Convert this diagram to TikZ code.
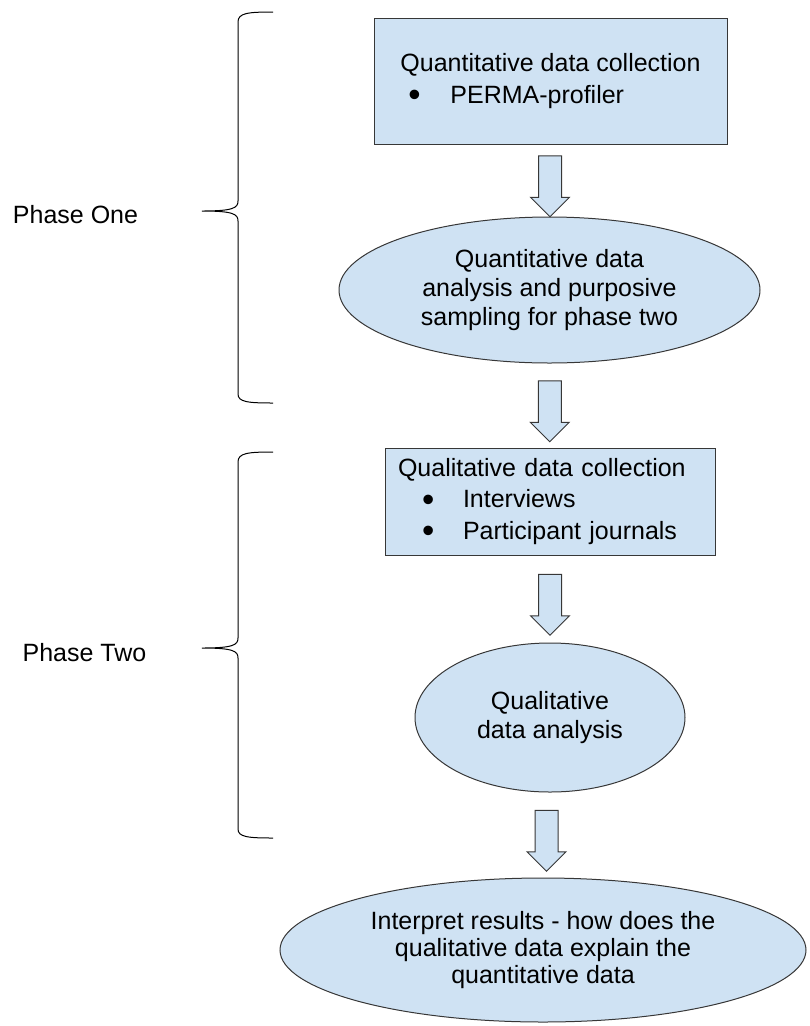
\documentclass[tikz,border=0pt]{standalone}
\usepackage{fontspec}
\setmainfont{Liberation Sans}
\usetikzlibrary{shapes.geometric,shapes.arrows,calc}
\definecolor{stepfill}{RGB}{207,226,243}
\definecolor{stepline}{RGB}{55,55,55}
\newcommand{\stepbullet}{\raisebox{-2.5pt}{\scalebox{1.4}{\textbullet}}}
\tikzset{
  stepbox/.style={draw=stepline,line width=0.75pt,fill=stepfill,align=left,inner xsep=0pt,inner ysep=0pt,
    font=\fontsize{18.75}{23.6}\selectfont},
  stepell/.style={ellipse,draw=stepline,line width=0.75pt,fill=stepfill,align=center,inner sep=0pt,
    font=\fontsize{18.75}{21.4}\selectfont},
  downarrow/.style={single arrow,draw=stepline,line width=0.75pt,fill=stepfill,rotate=-90,inner xsep=0pt,
    inner ysep=8.25pt,minimum height=45.75pt,single arrow head extend=6pt,single arrow tip angle=90,
    single arrow head indent=0pt},
  phasenote/.style={font=\fontsize{18.75}{22}\selectfont,inner sep=0pt},
  phasebrace/.style={draw=black,line width=0.75pt}
}
\begin{document}
\begin{tikzpicture}[x=0.75pt,y=-0.75pt]
  \useasboundingbox (0,0) rectangle (810,1026);
  \node[stepbox,minimum width=264.75pt,minimum height=94.5pt] (quantbox) at (550.5,81)
    {Quantitative data collection\\\makebox[37.5pt][l]{\hspace*{6pt}\stepbullet}PERMA-profiler};
  \node[stepell,minimum width=315.75pt,minimum height=109.5pt] (quantell) at (549.5,290)
    {Quantitative data\\analysis and purposive\\sampling for phase two};
  \node[stepbox,text width=228pt,minimum width=247.5pt,minimum height=80.25pt] (qualbox) at (550,501.5)
    {Qualitative data collection\\\makebox[48.75pt][l]{\hspace*{18pt}\stepbullet}Interviews\\
     \makebox[48.75pt][l]{\hspace*{18pt}\stepbullet}Participant journals};
  \node[stepell,minimum width=202.5pt,minimum height=111.75pt] (qualell) at (550,717.5)
    {Qualitative\\data analysis};
  \node[stepell,minimum width=394.5pt,minimum height=108pt,font=\fontsize{18.75}{20}\selectfont] (interpell) at (543,950)
    {Interpret results - how does the\\qualitative data explain the\\quantitative data};
  \node[downarrow] (arrowa) at ($(quantbox.south)!0.5!(quantell.north)$) {};
  \node[downarrow] (arrowb) at ($(quantell.south)!0.5!(qualbox.north)$) {};
  \node[downarrow] (arrowc) at ($(qualbox.south)!0.5!(qualell.north)$) {};
  \node[downarrow] (arrowd) at ($(qualell.south)!0.5!(interpell.north)$) {};
  \node[phasenote] (phaseone) at (75.5,215) {Phase One};
  \node[phasenote] (phasetwo) at (84.5,653) {Phase Two};
  \draw[phasebrace] (273,12) .. controls (248,12) and (238,13) .. (238,22) -- (238,201)
    .. controls (238,208) and (233,211) .. (202,211) .. controls (233,211) and (238,214) .. (238,221)
    -- (238,394) .. controls (238,402) and (248,403) .. (273,403);
  \draw[phasebrace] (273,452) .. controls (248,452) and (238,453) .. (238,462) -- (238,638)
    .. controls (238,645) and (233,648) .. (202,648) .. controls (233,648) and (238,651) .. (238,658)
    -- (238,829) .. controls (238,837) and (248,838) .. (273,838);
\end{tikzpicture}
\end{document}
